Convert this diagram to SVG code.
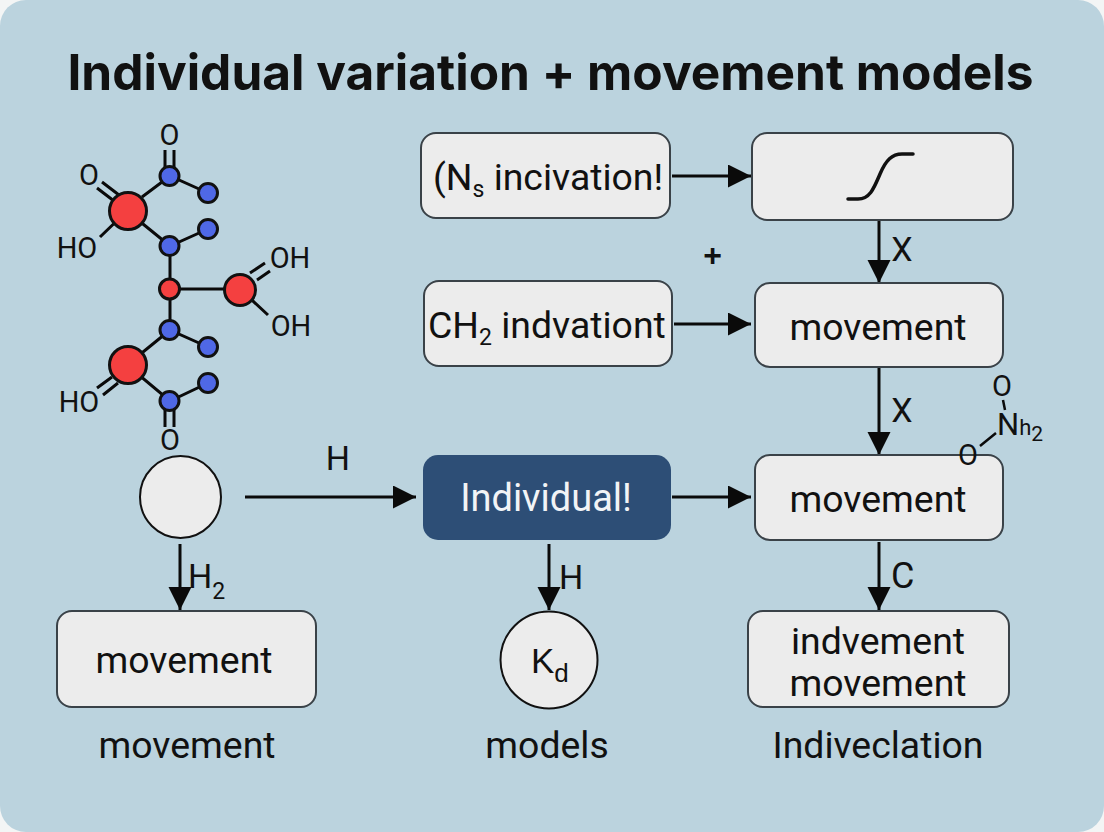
<svg xmlns="http://www.w3.org/2000/svg" width="1104" height="832" viewBox="0 0 1104 832">
<style>
text{font-family:"Liberation Sans",Arial,sans-serif;fill:#111;}
.box{fill:#ececec;stroke:#3a4248;stroke-width:2;}
.lbl{font-family:Roboto,"Liberation Sans",sans-serif;font-size:37.400px;text-anchor:middle;}
.t{font-family:Roboto,"Liberation Sans",sans-serif;font-size:29px;text-anchor:middle;}
.e{font-family:Roboto,"Liberation Sans",sans-serif;font-size:34px;}
.b{stroke:#0a0a0a;stroke-width:3;fill:none;}
.r{fill:#f44040;stroke:#111;stroke-width:3;}
.u{fill:#4f68e6;stroke:#111;stroke-width:3;}
.c{stroke:#0a0a0a;stroke-width:3;fill:none;marker-end:url(#a);}
</style>
<defs>
<marker id="a" markerUnits="userSpaceOnUse" markerWidth="24" markerHeight="24" refX="23" refY="11.500" orient="auto"><path d="M0 0L23 11.500L0 23Z" fill="#0a0a0a"/></marker>
</defs>
<rect width="1104" height="832" fill="#f3f5f5"/>
<rect width="1104" height="832" rx="26" fill="#bbd3de"/>
<text x="550.500" y="90" text-anchor="middle" font-size="49.600" font-weight="700" style="font-family:Inter,'Liberation Sans',sans-serif" fill="#0c0c0c">Individual variation + movement models</text>

<g id="molecule">
<path class="b" d="M142 197L170 176L208 193M127 211L170 246L208 229M170 246V330L208 347M170 330L127 365L170 401L208 383M170 289H240M240 289L268 315M100 237L127 211"/>
<path class="b" d="M165 150V176M174 150V176M165 401V427M174 401V427M97 188L114 201M102 182L119 195M250 273L265 263M257 280L270 271M97 388L112 377M103 395L118 383"/>
<circle class="r" cx="128" cy="211" r="18.500"/><circle class="r" cx="128" cy="365" r="18.500"/><circle class="r" cx="240" cy="290" r="15.500"/><circle class="r" cx="169.500" cy="289" r="10"/>
<circle class="u" cx="169.500" cy="176" r="9.500"/><circle class="u" cx="208" cy="193" r="9.500"/><circle class="u" cx="208" cy="229" r="9.500"/><circle class="u" cx="169.500" cy="246" r="9.500"/><circle class="u" cx="169.500" cy="330" r="9.500"/><circle class="u" cx="208" cy="347" r="9.500"/><circle class="u" cx="208" cy="383" r="9.500"/><circle class="u" cx="169.500" cy="401" r="9.500"/>
<text class="t" x="169.500" y="145">O</text>
<text class="t" x="89" y="185">O</text>
<text class="t" x="77" y="258">HO</text>
<text class="t" x="290" y="268">OH</text>
<text class="t" x="291" y="336">OH</text>
<text class="t" x="79" y="412">HO</text>
<text class="t" x="170" y="450">O</text>
</g>

<g id="connectors">
<path class="c" d="M672 176H751"/>
<path class="c" d="M879 221V283"/>
<path class="c" d="M674 324H751"/>
<path class="c" d="M879 368V455"/>
<path class="c" d="M245 497H416"/>
<path class="c" d="M672 497H751"/>
<path class="c" d="M879 542V610"/>
<path class="c" d="M180 544V610"/>
<path class="c" d="M549 544V610"/>
</g>

<g id="n1"><rect class="box" x="421" y="133" width="249" height="85" rx="15"/><text class="lbl" x="433" y="190" style="text-anchor:start">(N<tspan font-size="23" dy="7">s</tspan><tspan dy="-7"> incivation!</tspan></text></g>
<g id="n2"><rect class="box" x="752" y="133" width="261" height="87" rx="15"/><path d="M848 199H858C870 199 874 188 880 174C886 160 892 154 902 154H913" fill="none" stroke="#111" stroke-width="3.500" stroke-linecap="round"/></g>
<g id="n3"><rect class="box" x="424" y="281" width="248" height="85" rx="15"/><text class="lbl" x="428" y="338" style="text-anchor:start">CH<tspan font-size="23" dy="7">2</tspan><tspan dy="-7"> indvationt</tspan></text></g>
<g id="n4"><rect class="box" x="755" y="283" width="248" height="84" rx="15"/><text class="lbl" x="878" y="340">movement</text></g>
<g id="n5"><rect class="box" x="755" y="455" width="248" height="85" rx="15"/><text class="lbl" x="878" y="512">movement</text></g>
<g id="n6"><rect x="423" y="455" width="248" height="85" rx="15" fill="#2d4e76"/><text class="lbl" x="546" y="511" style="fill:#f2f4f6;font-size:38px">Individual!</text></g>
<g id="n7"><rect class="box" x="748" y="611" width="261" height="96" rx="15"/><text class="lbl" x="878" y="654">indvement</text><text class="lbl" x="878" y="696">movement</text></g>
<g id="n8"><rect class="box" x="57" y="611" width="259" height="96" rx="15"/><text class="lbl" x="184" y="673">movement</text></g>
<g id="n9"><ellipse class="box" cx="180.500" cy="497" rx="40.500" ry="41" style="stroke:#111"/></g>
<g id="n10"><ellipse class="box" cx="549" cy="660" rx="48.500" ry="48.500" style="stroke:#111"/><text x="531" y="673" font-size="35">K<tspan font-size="26" dy="9">d</tspan></text></g>

<g id="labels">
<text x="712.500" y="266" text-anchor="middle" font-weight="700" font-size="32">+</text>
<text class="e" x="902" y="261" text-anchor="middle">X</text>
<text class="e" x="902" y="422" text-anchor="middle">X</text>
<text class="e" x="338" y="470" text-anchor="middle">H</text>
<text class="e" x="188" y="588">H<tspan font-size="23" dy="11">2</tspan></text>
<text class="e" x="559" y="589">H</text>
<text class="e" x="891" y="588" style="font-size:36px">C</text>
<text class="lbl" x="187" y="758">movement</text>
<text class="lbl" x="547" y="758">models</text>
<text class="lbl" x="878" y="758">Indiveclation</text>
<text class="t" x="1002" y="396">O</text>
<text x="997" y="435" font-size="31" style="font-family:Roboto,'Liberation Sans',sans-serif">N<tspan font-size="22">h</tspan><tspan font-size="21" dy="6">2</tspan></text>
<text class="t" x="968" y="465">O</text>
<path class="b" style="stroke-width:2.500" d="M1003 400L1005 410M980 446L996 433"/>
</g>
</svg>
